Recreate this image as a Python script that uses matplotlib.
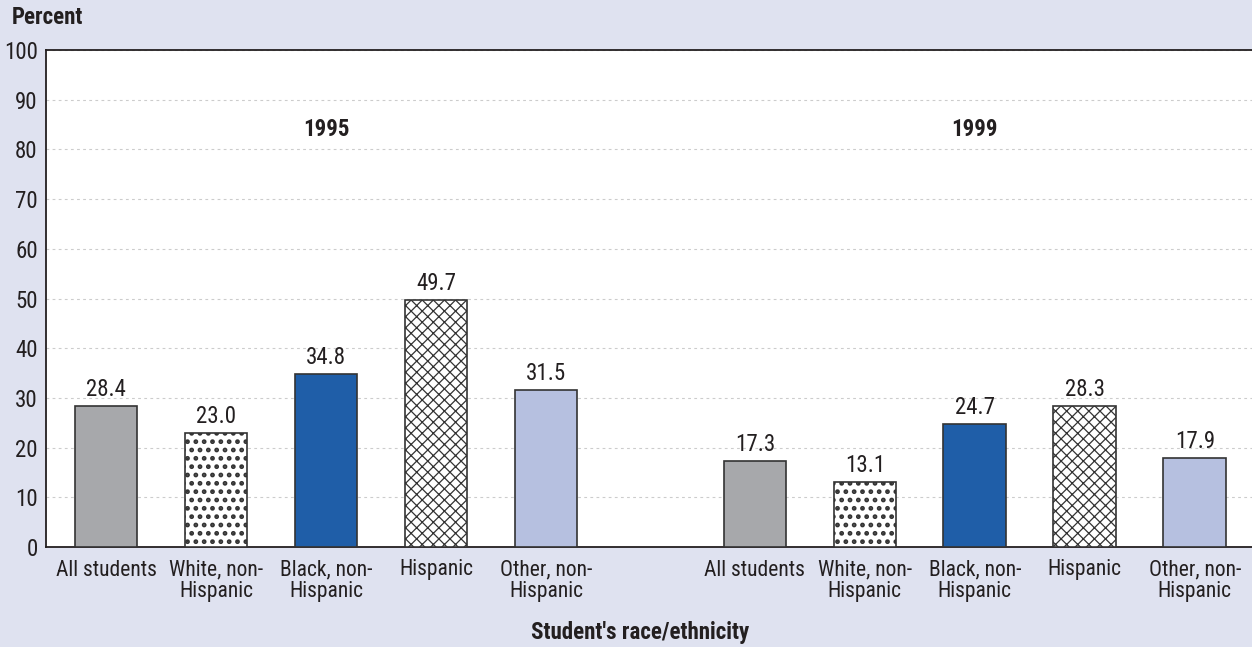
import matplotlib
matplotlib.use("Agg")
import matplotlib.pyplot as plt
from matplotlib import font_manager
import numpy as np

plt.rcParams['hatch.linewidth'] = 1.0

categories = ["All students", "White, non-\nHispanic", "Black, non-\nHispanic", "Hispanic", "Other, non-\nHispanic"]
years = ["1995", "1999"]
values_1995 = [28.4, 23.0, 34.8, 49.7, 31.5]
values_1999 = [17.3, 13.1, 24.7, 28.3, 17.9]

names = {f.name for f in font_manager.fontManager.ttflist}
fam = [f for f in ["Liberation Sans Narrow", "Roboto Condensed", "Open Sans Condensed"] if f in names] + ["DejaVu Sans"]
plt.rcParams['font.family'] = fam

bg = "#dfe2f0"
colors = ["#a7a8ab", "white", "#1f5ea8", "white", "#b6c0e0"]
hatches = [None, "..", None, "xxx", None]
hatch_lw = [1.0, 2.2, 1.0, 0.9, 1.0]
fs = 16.5

W, H = 1252, 647
fig = plt.figure(figsize=(W/100, H/100), dpi=100, facecolor=bg)
ax = fig.add_axes([46/W, (H-547)/H, (W-46)/W, (547-50)/H])
ax.set_facecolor("white")

gap = 1.9
x1 = np.arange(5)
x2 = np.arange(5) + 4 + gap
width = 0.57
for xs, vals in [(x1, values_1995), (x2, values_1999)]:
    for i, (x, v) in enumerate(zip(xs, vals)):
        bars = ax.bar(x, v, width=width, color=colors[i], edgecolor="#333333", linewidth=1.2,
                      hatch=hatches[i], zorder=3)
        for b in bars:
            if hasattr(b, "set_hatch_linewidth"):
                b.set_hatch_linewidth(hatch_lw[i])
        ax.text(x, v + 1.0, f"{v:.1f}", ha="center", va="bottom", fontsize=fs, color="#231f20", zorder=4)

ax.text(x1.mean(), 84, years[0], ha="center", va="center", fontsize=fs, fontweight="bold", color="#231f20")
ax.text(x2.mean(), 84, years[1], ha="center", va="center", fontsize=fs, fontweight="bold", color="#231f20")

ax.set_xlim(-0.545, x2[-1] + 0.52)
ax.set_ylim(0, 100)
ax.set_yticks(range(0, 101, 10))
ax.tick_params(axis="y", length=0, labelsize=fs, pad=6, colors="#231f20")
ax.set_xticks(np.concatenate([x1, x2]))
ax.set_xticklabels(categories * 2, fontsize=15.5, color="#231f20", linespacing=1.05)
ax.tick_params(axis="x", length=0, pad=9)
ax.grid(axis="y", color="#cccccc", linestyle=(0, (2.5, 3)), linewidth=0.8, zorder=0)
for s in ["left", "top", "bottom"]:
    ax.spines[s].set_color("#231f20")
    ax.spines[s].set_linewidth(1.3)
ax.spines["right"].set_visible(False)

fig.text(12/W, 1 - 18/H, "Percent", ha="left", va="center", fontsize=fs, fontweight="bold", color="#231f20")
fig.text(640/W, 1 - 632/H, "Student's race/ethnicity", ha="center", va="center", fontsize=fs, fontweight="bold", color="#231f20")

fig.savefig("out.png", dpi=100, facecolor=bg)
